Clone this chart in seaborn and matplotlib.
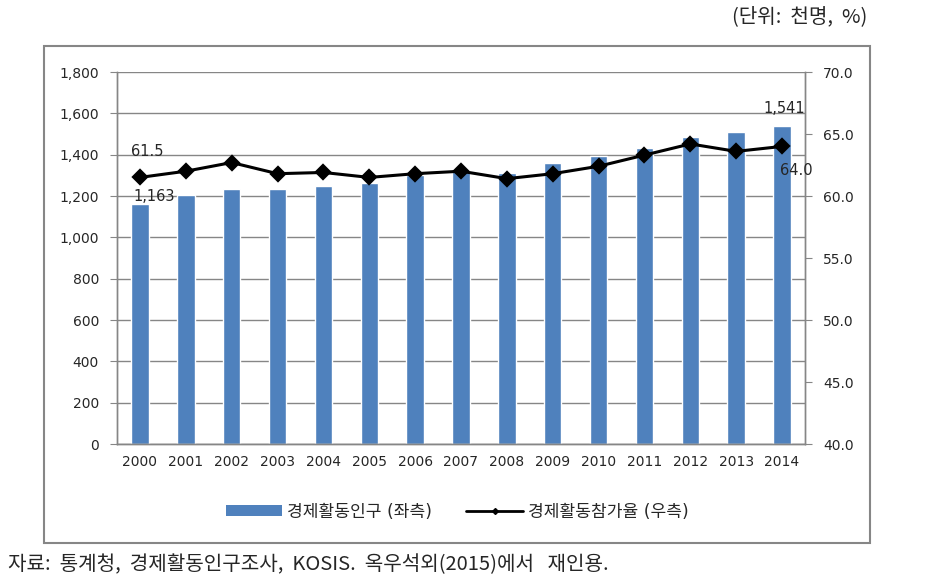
import numpy as np
import pandas as pd
import matplotlib
matplotlib.use('Agg')
import matplotlib.pyplot as plt
import seaborn as sb
from matplotlib.patches import Rectangle, Patch
from matplotlib.lines import Line2D
from matplotlib.ticker import FuncFormatter

# data
years = ['2000', '2001', '2002', '2003', '2004', '2005', '2006', '2007',
         '2008', '2009', '2010', '2011', '2012', '2013', '2014']
labor_force = [1163, 1205, 1235, 1233, 1250, 1262, 1300, 1320,
               1313, 1360, 1393, 1430, 1485, 1508, 1541]
part_rate = [61.5, 62.0, 62.7, 61.8, 61.9, 61.5, 61.8, 62.0,
             61.4, 61.8, 62.4, 63.3, 64.2, 63.6, 64.0]
bar_name = '경제활동인구 (좌측)'
line_name = '경제활동참가율 (우측)'
unit_text = '(단위:  천명,  %)'
source_text = '자료:  통계청,  경제활동인구조사,  KOSIS.  옥우석외(2015)에서   재인용.'

sb.set_style('white')
plt.rcParams['font.family'] = ['DejaVu Sans', 'Noto Sans CJK KR']

df = pd.DataFrame({'year': years, 'pop': labor_force, 'rate': part_rate})

fig = plt.figure(figsize=(9.33, 5.87), dpi=100)
ax = fig.add_axes([0.1254, 0.2436, 0.7374, 0.6337])
grey = '#868686'

sb.barplot(data=df, x='year', y='pop', color='#4F81BD', saturation=1,
           width=0.38, ax=ax, zorder=2)
ax.set_ylim(0, 1800)
ax.set_yticks(np.arange(0, 1801, 200))
ax.yaxis.set_major_formatter(FuncFormatter(lambda v, p: f'{int(v):,}'))
ax.grid(axis='y', color=grey, linewidth=1, zorder=0)
ax.set_axisbelow(True)
ax.set_xlabel('')
ax.set_ylabel('')
ax.set_xlim(-0.5, 14.5)

ax2 = ax.twinx()
sb.pointplot(data=df, x='year', y='rate', color='black', markers='D',
             markersize=7.5, linewidth=2.2, ax=ax2, errorbar=None)
ax2.set_ylim(40, 70)
ax2.set_yticks(np.arange(40, 71, 5))
ax2.yaxis.set_major_formatter(FuncFormatter(lambda v, p: f'{v:.1f}'))
ax2.set_ylabel('')
ax2.set_xlim(-0.5, 14.5)

for a in (ax, ax2):
    for s in a.spines.values():
        s.set_color(grey)
        s.set_linewidth(1)
    a.spines['top'].set_visible(False)
    a.tick_params(axis='y', length=5, color=grey, direction='out', labelsize=10, pad=8)

ax.set_xticks(np.arange(-0.5, 15, 1), minor=True)
ax.tick_params(axis='x', which='major', length=0, labelsize=10, pad=8)
ax.tick_params(axis='x', which='minor', length=5, color=grey, direction='out')
ax.tick_params(axis='y', which='both', right=False)
ax2.tick_params(axis='y', left=False)

# data labels
ax.text(-0.15, labor_force[0] + 35, f'{labor_force[0]:,}', fontsize=10.5, va='center', ha='left', zorder=5)
ax.text(14.05, labor_force[-1] + 45, f'{labor_force[-1]:,}', fontsize=10.5, va='bottom', ha='center')
ax2.text(-0.2, part_rate[0] + 1.5, f'{part_rate[0]:.1f}', fontsize=10.5, va='bottom', ha='left')
ax2.text(13.95, part_rate[-1] - 1.3, f'{part_rate[-1]:.1f}', fontsize=10.5, va='top', ha='left')

handles = [Patch(facecolor='#4F81BD', edgecolor='none'),
           Line2D([0], [0], color='black', linewidth=2, marker='D', markersize=3)]
fig.legend(handles, [bar_name, line_name], loc='center', bbox_to_anchor=(0.49, 0.128),
           ncol=2, frameon=False, fontsize=12.3, handlelength=3.3, handleheight=0.6,
           columnspacing=2.0, handletextpad=0.3)

fig.patches.append(Rectangle((44 / 933, 1 - 543 / 587), (870 - 44) / 933, (543 - 46) / 587,
                             transform=fig.transFigure, fill=False, edgecolor=grey,
                             linewidth=1.5))

fig.text(867 / 933, 1 - 17 / 587, unit_text, ha='right', va='center', fontsize=14.5,
         family=['Noto Sans CJK KR', 'DejaVu Sans'])
fig.text(8 / 933, 1 - 565 / 587, source_text, ha='left', va='center', fontsize=14.5,
         family=['Noto Sans CJK KR', 'DejaVu Sans'])

fig.savefig('out.png', dpi=100)
